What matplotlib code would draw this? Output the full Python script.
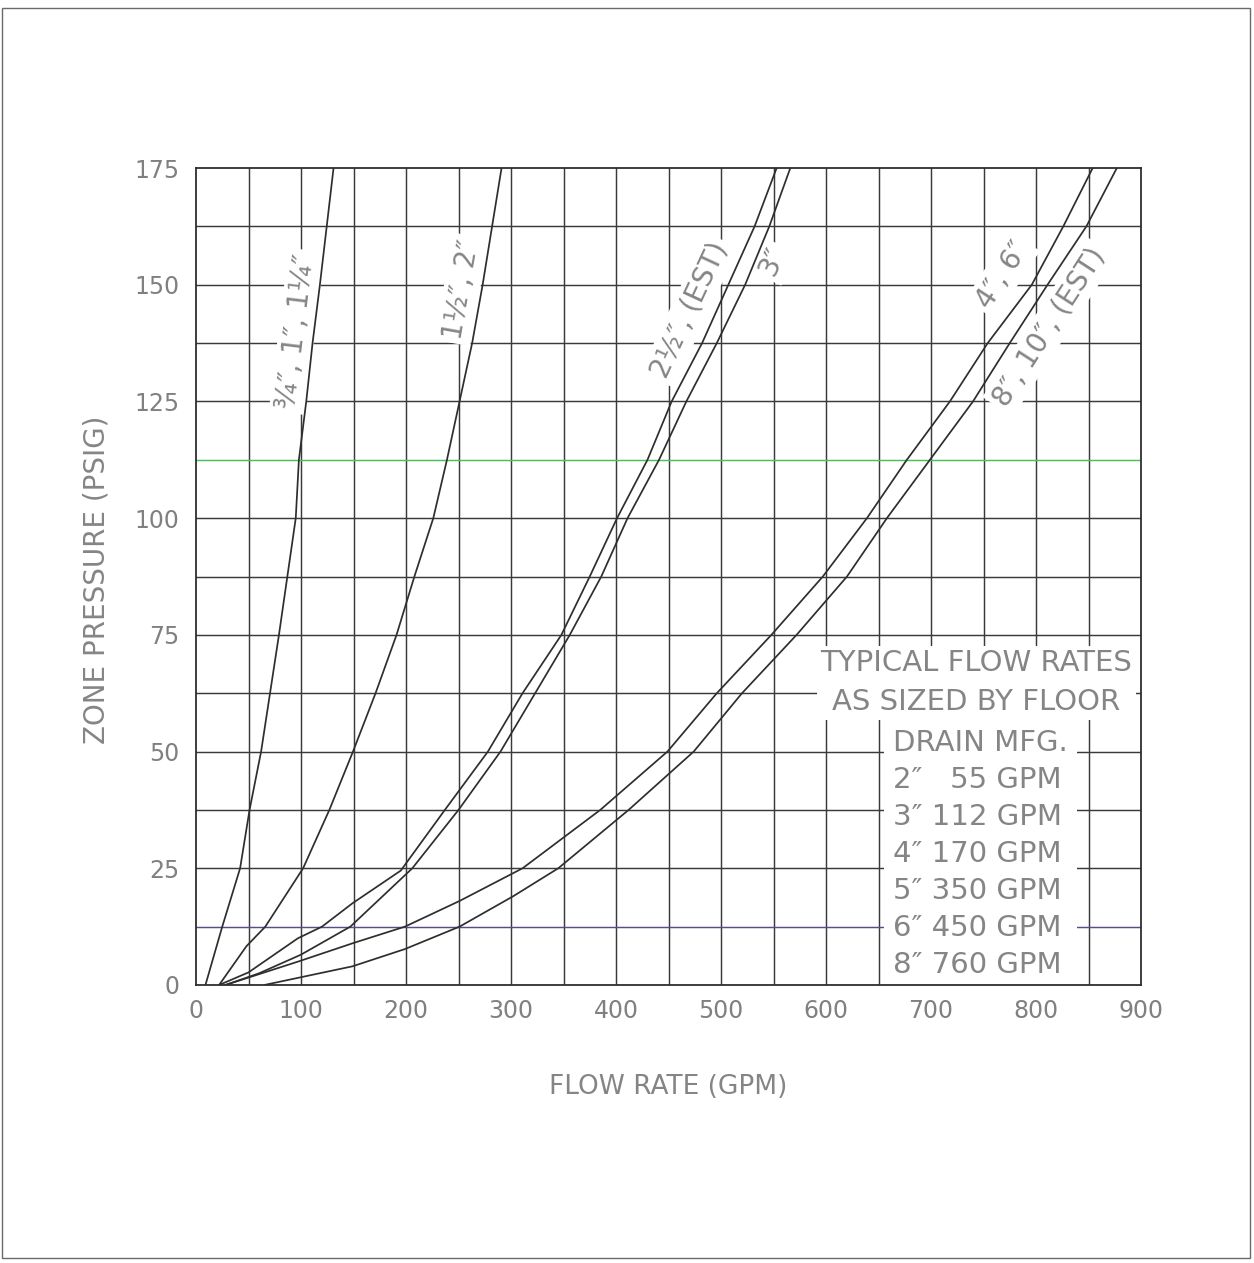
import matplotlib
matplotlib.use("Agg")
import matplotlib.pyplot as plt
from matplotlib.patches import Rectangle

# ---------------- data ----------------
x_ticks = [0, 100, 200, 300, 400, 500, 600, 700, 800, 900]
y_ticks = [0, 25, 50, 75, 100, 125, 150, 175]
x_grid = [50, 100, 150, 200, 250, 300, 350, 400, 450, 500, 550, 600, 650, 700, 750, 800, 850]
y_grid = [12.5, 25, 37.5, 50, 62.5, 75, 87.5, 100, 112.5, 125, 137.5, 150, 162.5]

# curve 1: 3/4", 1", 1-1/4"
c1_flow = [9, 25, 42, 51, 62, 70.5, 79, 87, 95, 98, 105, 111, 118, 124.5, 131]
c1_psi = [0, 12.5, 25, 37.5, 50, 62.5, 75, 87.5, 100, 112.5, 125, 137.5, 150, 162.5, 175]

# curve 2: 1-1/2", 2"
c2_flow = [22, 48, 66, 102, 127, 149.5, 171, 191, 208, 226, 239, 251, 263, 273, 282, 291]
c2_psi = [0, 8.3, 12.5, 25, 37.5, 50, 62.5, 75, 87.5, 100, 112.5, 125, 137.5, 150, 162.5, 175]

# curve 3: 2-1/2" (EST)
c3_flow = [22, 50, 97, 120, 149, 195, 237, 278, 311, 348, 375, 401, 430, 453, 482, 507, 532, 553]
c3_psi = [0, 2.7, 10, 12.5, 17.5, 24.5, 37.5, 50, 62.5, 75, 87.5, 100, 112.5, 125, 137.5, 150, 162.5, 175]

# curve 4: 3"
c4_flow = [28, 60, 100, 147, 206, 250, 290, 323, 356, 386, 411, 441, 467, 496, 523, 546, 566]
c4_psi = [0, 2.5, 6.5, 12.5, 25, 37.5, 50, 62.5, 75, 87.5, 100, 112.5, 125, 137.5, 150, 162.5, 175]

# curve 5: 4", 6"
c5_flow = [28, 97, 150, 199, 251, 311, 385, 449, 496, 548, 597, 639, 677, 718, 754, 796, 826, 854]
c5_psi = [0, 5, 9, 12.5, 18, 25, 37.5, 50, 62.5, 75, 87.5, 100, 112.5, 125, 137.5, 150, 162.5, 175]

# curve 6: 8", 10" (EST)
c6_flow = [65, 149, 199, 251, 302, 345, 412, 474, 520, 572, 620, 658, 699, 740, 775, 811, 848, 877]
c6_psi = [0, 4, 7.7, 12.5, 19, 25, 37.5, 50, 62.5, 75, 87.5, 100, 112.5, 125, 137.5, 150, 162.5, 175]

curve_labels = ["\u00be\u2033, 1\u2033, 1\u00bc\u2033", "1\u00bd\u2033, 2\u2033", "2\u00bd\u2033, (EST)",
                "3\u2033", "4\u2033, 6\u2033", "8\u2033, 10\u2033, (EST)"]
label_pos = [(96, 140), (253, 149), (470, 144.6), (549, 155), (768, 152), (813, 141)]
label_rot = [83, 80, 65, 65, 57, 57]

box_title = ["TYPICAL FLOW RATES", "AS SIZED BY FLOOR"]
box_lines = ["DRAIN MFG.", "2\u2033   55 GPM", "3\u2033 112 GPM", "4\u2033 170 GPM",
             "5\u2033 350 GPM", "6\u2033 450 GPM", "8\u2033 760 GPM"]

# ---------------- figure ----------------
W, H = 1254, 1263
fig = plt.figure(figsize=(W / 100, H / 100), dpi=100)
fig.patch.set_facecolor("white")
ax = fig.add_axes([196 / W, 1 - 985 / H, (1141 - 196) / W, (985 - 168) / H])
ax.set_xlim(0, 900)
ax.set_ylim(0, 175)

line_c = "#2e2e2e"
text_c = "#858585"

for x in x_grid:
    ax.axvline(x, color="#3a3a3a", lw=1.05, zorder=1)
for y in y_grid:
    col = "#3a3a3a"
    if y == 112.5:
        col = "#4cbf5a"
    elif y == 12.5:
        col = "#5d4a8a"
    ax.axhline(y, color=col, lw=1.05, zorder=1)

for fl, ps in [(c1_flow, c1_psi), (c2_flow, c2_psi), (c3_flow, c3_psi),
               (c4_flow, c4_psi), (c5_flow, c5_psi), (c6_flow, c6_psi)]:
    ax.plot(fl, ps, color=line_c, lw=1.25, zorder=4, solid_capstyle="round")

for s, (px, py), r in zip(curve_labels, label_pos, label_rot):
    ax.text(px, py, s, rotation=r, rotation_mode="anchor", ha="center", va="center",
            fontsize=20, color=text_c, zorder=3,
            bbox=dict(boxstyle="square,pad=0.15", fc="white", ec="none"))

ax.text(743, 64.7, "\n".join(box_title), ha="center", va="center", fontsize=21,
        color=text_c, linespacing=1.5, zorder=3,
        bbox=dict(boxstyle="square,pad=0.12", fc="white", ec="none"))
ax.text(664, 28.0, "\n".join(box_lines), ha="left", va="center", fontsize=21,
        color=text_c, linespacing=1.41, zorder=3,
        bbox=dict(boxstyle="square,pad=0.3", fc="white", ec="none"))

ax.set_xticks(x_ticks)
ax.set_yticks(y_ticks)
ax.tick_params(axis="both", length=0, labelsize=17, labelcolor="#808080")
ax.tick_params(axis="y", pad=12)
ax.tick_params(axis="x", pad=10)
for sp in ax.spines.values():
    sp.set_color("#2e2e2e")
    sp.set_linewidth(1.3)
    sp.set_zorder(5)

ax.set_xlabel("FLOW RATE (GPM)", fontsize=19, color=text_c)
ax.xaxis.set_label_coords(0.5, (985 - 1087) / 817)
ax.xaxis.label.set_va("center")
ax.set_ylabel("ZONE PRESSURE (PSIG)", fontsize=20, color=text_c)
ax.yaxis.set_label_coords((97 - 196) / 945, 0.4957)
ax.yaxis.label.set_va("center")

fig.add_artist(Rectangle((2 / W, 1 - 1258 / H), (1250 - 2) / W, (1258 - 8) / H,
                         transform=fig.transFigure, fill=False, ec="#6a6a6a", lw=1.0))

fig.savefig("out.png", dpi=100, facecolor="white")
